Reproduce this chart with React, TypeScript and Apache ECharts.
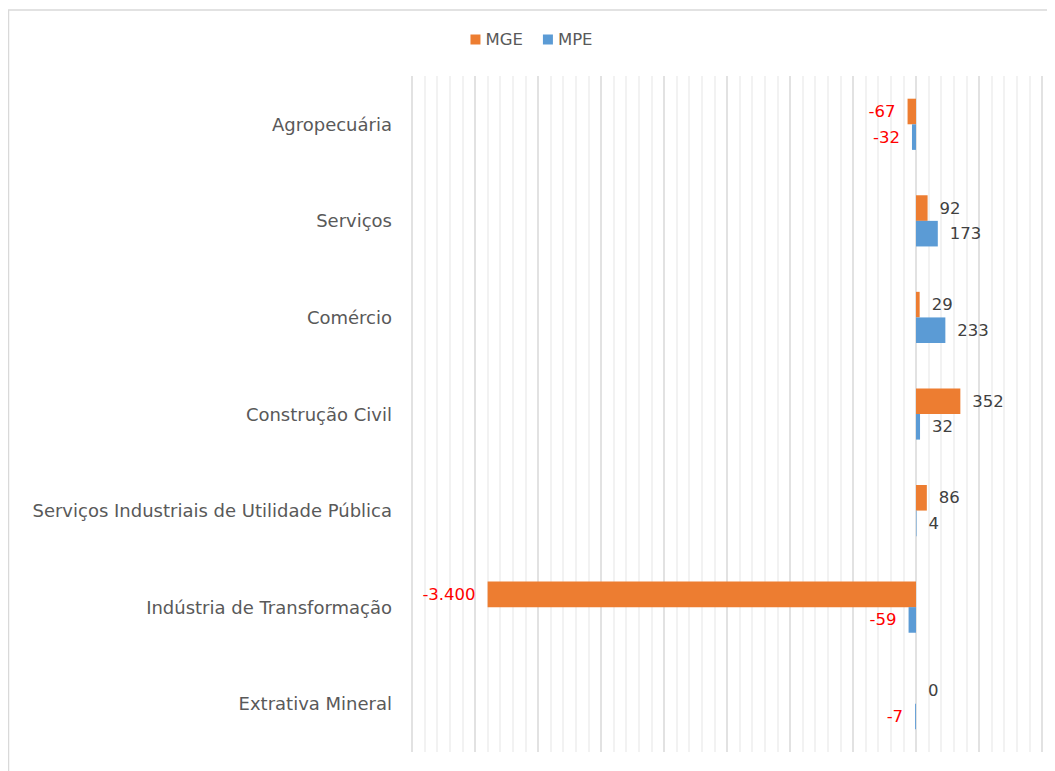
import React, { useEffect, useRef } from "react";
import * as echarts from "echarts";

const categories = [
  "Agropecuária",
  "Serviços",
  "Comércio",
  "Construção Civil",
  "Serviços Industriais de Utilidade Pública",
  "Indústria de Transformação",
  "Extrativa Mineral",
];
const mgeValues = [-67, 92, 29, 352, 86, -3400, 0];
const mpeValues = [-32, 173, 233, 32, 4, -59, -7];
const seriesNames = ["MGE", "MPE"];
const colors = ["#ED7D31", "#5B9BD5"];

const fmt = (v: number) => {
  const s = Math.abs(v).toString().replace(/\B(?=(\d{3})+(?!\d))/g, ".");
  return (v < 0 ? "-" : "") + s;
};

const toItems = (vals: number[]) =>
  vals.map((v) => ({
    value: v,
    label: {
      position: v < 0 ? "left" : "right",
      color: v < 0 ? "#FF0000" : "#404040",
    },
  }));

export default function App() {
  const ref = useRef<HTMLDivElement>(null);
  useEffect(() => {
    if (!ref.current) return;
    const chart = echarts.init(ref.current, null, { renderer: "svg" });
    const font = "'DejaVu Sans', sans-serif";
    const labelCfg = {
      show: true,
      distance: 12,
      fontSize: 16.5,
      fontFamily: font,
      padding: [3, 0, 0, 0],
      formatter: (p: any) => fmt(p.value),
    };
    chart.setOption({
      animation: false,
      backgroundColor: "#ffffff",
      textStyle: { fontFamily: font },
      legend: {
        top: 18,
        left: "center",
        itemWidth: 10,
        itemHeight: 10,
        itemGap: 20,
        icon: "rect",
        textStyle: { fontSize: 16.5, color: "#595959", fontFamily: font },
        data: seriesNames,
      },
      graphic: [
        {
          type: "rect",
          shape: { x: 0.5, y: 2, width: 1200, height: 900 },
          style: { fill: "none", stroke: "#d9d9d9", lineWidth: 1.5 },
          silent: true,
          z: -10,
        },
      ],
      grid: { left: 404, right: 13, top: 68, bottom: 19 },
      xAxis: {
        type: "value",
        min: -4000,
        max: 1000,
        interval: 500,
        axisLabel: { show: false },
        axisLine: { show: false },
        axisTick: { show: false },
        splitLine: { show: true, lineStyle: { color: "#d9d9d9", width: 1.5 } },
        minorTick: { show: false, splitNumber: 5 },
        minorSplitLine: { show: true, lineStyle: { color: "#eeeeee", width: 1.5 } },
      },
      yAxis: {
        type: "category",
        inverse: true,
        data: categories,
        axisLine: { show: false },
        axisTick: { show: false },
        axisLabel: {
          margin: 20,
          fontSize: 18,
          color: "#595959",
          fontFamily: font,
          padding: [6, 0, 0, 0],
        },
      },
      series: [
        {
          name: seriesNames[0],
          type: "bar",
          data: toItems(mgeValues),
          itemStyle: { color: colors[0] },
          barGap: "0%",
          barCategoryGap: "47%",
          label: labelCfg,
        },
        {
          name: seriesNames[1],
          type: "bar",
          data: toItems(mpeValues),
          itemStyle: { color: colors[1] },
          barGap: "0%",
          barCategoryGap: "47%",
          label: labelCfg,
        },
      ],
    });
    return () => chart.dispose();
  }, []);
  return <div ref={ref} style={{ width: 1047, height: 763 }} />;
}
